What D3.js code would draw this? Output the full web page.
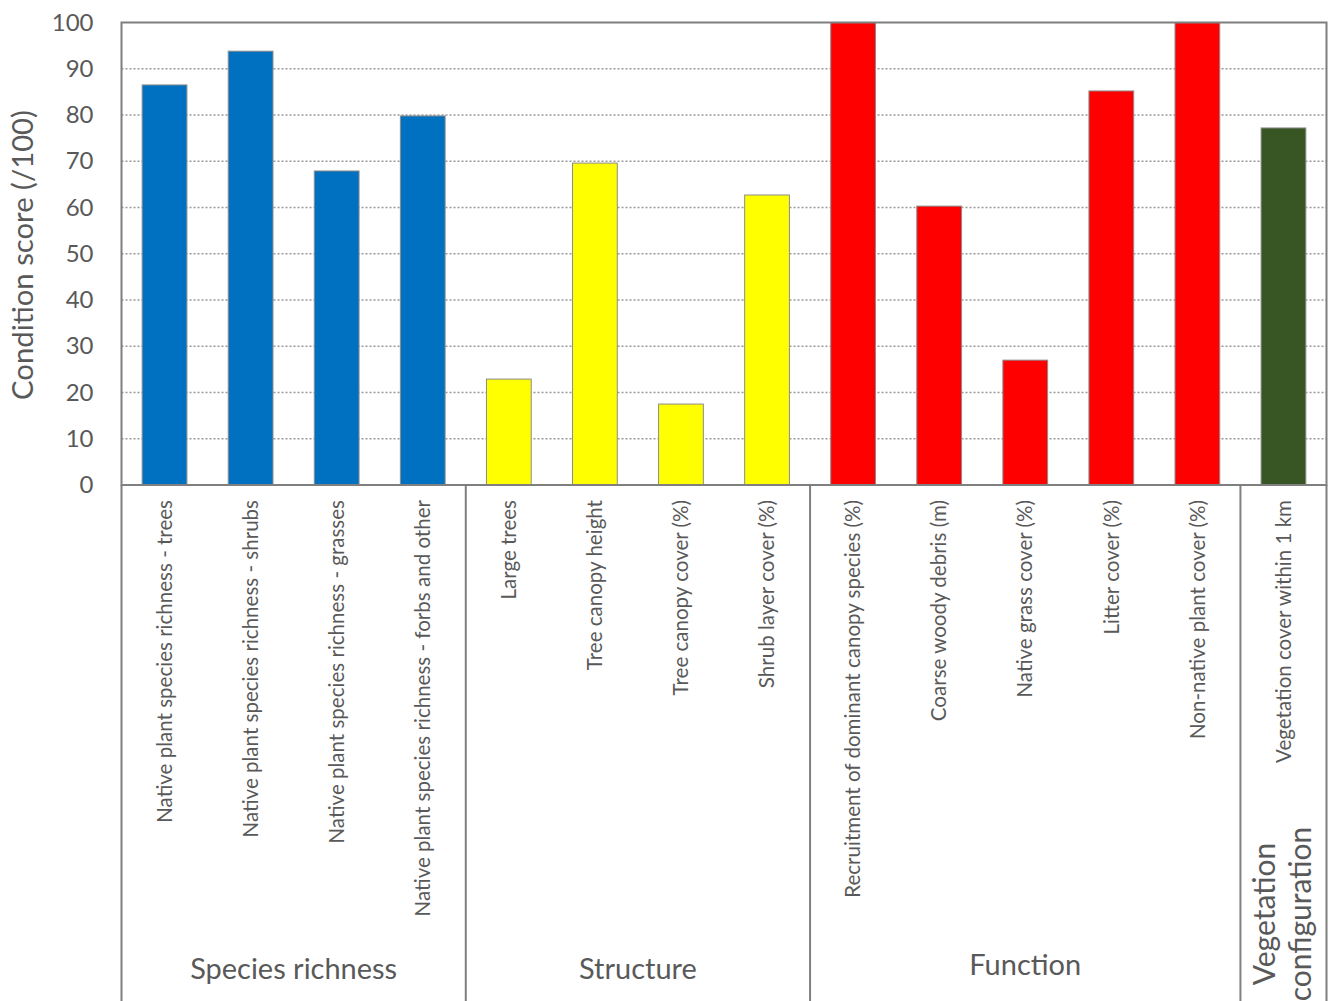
<!DOCTYPE html>
<html>
<head>
<meta charset="utf-8">
<script src="https://cdn.jsdelivr.net/npm/d3@7"></script>
<style>
  html, body { margin: 0; padding: 0; background: #fff; }
  svg { display: block; font-family: Lato, "Open Sans", sans-serif; }
</style>
</head>
<body>
<svg id="chart" width="1331" height="1001"></svg>
<script>
const categories = [
  "Native plant species richness - trees",
  "Native plant species richness - shrubs",
  "Native plant species richness - grasses",
  "Native plant species richness - forbs and other",
  "Large trees",
  "Tree canopy height",
  "Tree canopy cover (%)",
  "Shrub layer cover (%)",
  "Recruitment of dominant canopy species (%)",
  "Coarse woody debris (m)",
  "Native grass cover (%)",
  "Litter cover (%)",
  "Non-native plant cover (%)",
  "Vegetation cover within 1 km"
];
const values = [86.5, 93.8, 67.9, 79.8, 22.9, 69.6, 17.5, 62.7, 100, 60.3, 27.0, 85.2, 100, 77.2];
const groupOf = [
  "Species richness","Species richness","Species richness","Species richness",
  "Structure","Structure","Structure","Structure",
  "Function","Function","Function","Function","Function",
  "Vegetation configuration"
];
const groups = ["Species richness", "Structure", "Function", "Vegetation configuration"];
const groupColors = ["#0070C0", "#FFFF00", "#FF0000", "#375623"];
const yTicks = [0, 10, 20, 30, 40, 50, 60, 70, 80, 90, 100];
const yTitle = "Condition score (/100)";

const svg = d3.select("#chart");
const plot = { left: 121.5, right: 1326.5, top: 22.5, bottom: 485 };
const textColor = "#595959";
const axisColor = "#7f7f7f";

function fitFont(sel, baseSize, targetLen) {
  sel.style("font-size", baseSize + "px");
  const len = sel.node().getComputedTextLength();
  return baseSize * targetLen / len;
}

const x = d3.scaleBand().domain(categories).range([plot.left, plot.right]).paddingInner(0.48).paddingOuter(0.24);
const y = d3.scaleLinear().domain([0, 100]).range([plot.bottom, plot.top]);
const color = d3.scaleOrdinal().domain(groups).range(groupColors);

// gridlines
svg.append("g").selectAll("line").data(yTicks.filter(t => t > 0 && t < 100)).join("line")
  .attr("x1", plot.left).attr("x2", plot.right)
  .attr("y1", d => y(d)).attr("y2", d => y(d))
  .attr("stroke", "#999999").attr("stroke-width", 1.5).attr("stroke-dasharray", "2,2");

// bars
svg.append("g").selectAll("rect").data(categories).join("rect")
  .attr("x", d => x(d))
  .attr("width", x.bandwidth())
  .attr("y", (d, i) => y(values[i]))
  .attr("height", (d, i) => y(0) - y(values[i]))
  .attr("fill", (d, i) => color(groupOf[i]))
  .attr("stroke", "#8c8c8c").attr("stroke-width", 1);

// frame
svg.append("rect")
  .attr("x", plot.left).attr("y", plot.top)
  .attr("width", plot.right - plot.left).attr("height", plot.bottom - plot.top)
  .attr("fill", "none").attr("stroke", axisColor).attr("stroke-width", 2);

// y axis labels
const yAxis = d3.axisLeft(y).tickValues(yTicks).tickSize(0).tickPadding(28);
const yg = svg.append("g").attr("transform", `translate(${plot.left},0)`).call(yAxis);
yg.select(".domain").remove();
yg.selectAll("text").attr("fill", textColor).style("font-size", "24px").style("font-family", "Lato, sans-serif");

// y title
const yt = svg.append("text")
  .attr("transform", `translate(33, 255) rotate(-90)`)
  .attr("text-anchor", "middle")
  .attr("fill", textColor)
  .text(yTitle);
yt.style("font-size", fitFont(yt, 27, 290) + "px");

// group separators
const bounds = [];
groups.forEach(g => {
  const idx = categories.map((c, i) => i).filter(i => groupOf[i] === g);
  const step = x.step();
  const start = x(categories[idx[0]]) - step * x.paddingInner() / 2;
  const end = x(categories[idx[idx.length - 1]]) + x.bandwidth() + step * x.paddingInner() / 2;
  bounds.push({ g, start, end });
});
const sepX = [plot.left].concat(bounds.map(b => b.end));
sepX[sepX.length - 1] = plot.right;
svg.append("g").selectAll("line").data(sepX).join("line")
  .attr("x1", d => d).attr("x2", d => d)
  .attr("y1", plot.bottom).attr("y2", 1001)
  .attr("stroke", axisColor).attr("stroke-width", 2);

// category labels
const cl = svg.append("g").selectAll("text").data(categories).join("text")
  .attr("transform", d => `translate(${x(d) + x.bandwidth() / 2}, 500) rotate(-90)`)
  .attr("text-anchor", "end")
  .attr("dy", "0.35em")
  .attr("fill", textColor)
  .text(d => d);
const clSize = fitFont(d3.select(cl.nodes()[0]), 18.5, 323);
cl.style("font-size", clSize + "px");

// group labels
bounds.forEach(b => {
  const cx = (b.start + b.end) / 2;
  if (b.g === "Vegetation configuration") {
    const t = svg.append("text")
      .attr("transform", `translate(${cx - 2}, 914) rotate(-90)`)
      .attr("text-anchor", "middle")
      .attr("fill", textColor).style("font-size", "30px");
    t.append("tspan").attr("x", 0).attr("dy", "-0.2em").text("Vegetation");
    t.append("tspan").attr("x", 0).attr("dy", "1.2em").text("configuration");
  } else {
    const t = svg.append("text")
      .attr("x", cx).attr("y", b.g === "Function" ? 975 : 979)
      .attr("text-anchor", "middle")
      .attr("fill", textColor)
      .text(b.g);
    if (b.g === "Species richness") {
      b.size = fitFont(t, 28, 207);
    }
  }
});
const gs = bounds.find(b => b.size).size;
svg.selectAll("text").filter(function() { return ["Species richness", "Structure", "Function"].includes(this.textContent); })
  .style("font-size", gs + "px");
</script>
</body>
</html>
